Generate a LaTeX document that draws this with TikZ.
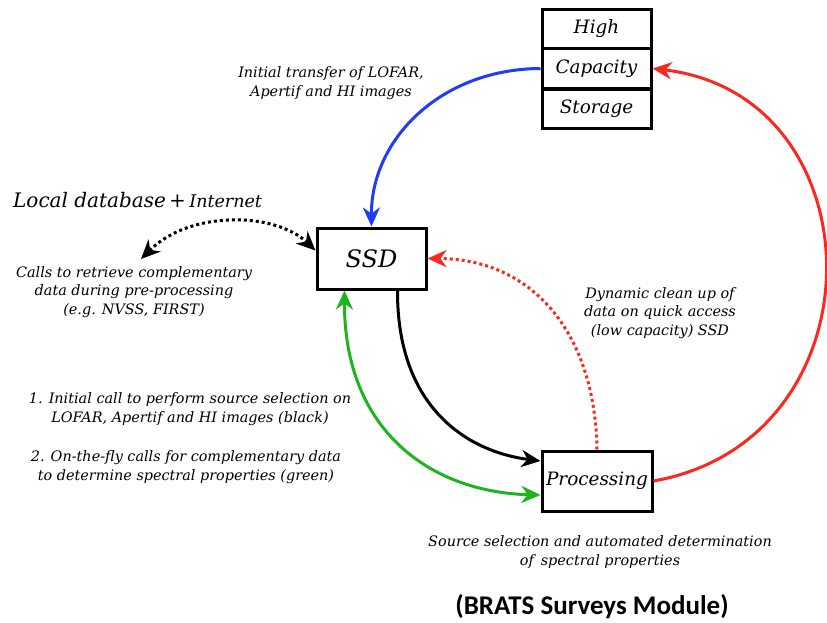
\documentclass[tikz,border=0pt]{standalone}
\usepackage{fontspec}
\setmainfont{DejaVu Serif}
\newfontfamily\boldsans{Carlito}
\usetikzlibrary{arrows.meta}
\definecolor{cblue}{RGB}{30,60,250}
\definecolor{cred}{RGB}{250,40,30}
\definecolor{cgreen}{RGB}{30,180,30}
\tikzset{
  box/.style={draw=black, line width=3pt, inner sep=0pt, font=\itshape\fontsize{18.4}{20}\selectfont},
  lbl/.style={align=center, font=\itshape\fontsize{14.4}{18.5}\selectfont},
  conn/.style={line width=3pt},
  tip/.style={-{Stealth[length=19pt,width=17pt,inset=6pt]}},
  tips/.style={{Stealth[length=19pt,width=17pt,inset=6pt]}-{Stealth[length=19pt,width=17pt,inset=6pt]}},
  dots/.style={dash pattern=on 3pt off 3pt}
}
\begin{document}
\begin{tikzpicture}[x=1pt,y=-1pt]
\useasboundingbox (0,0) rectangle (827,622);
% storage
\node[box, minimum width=109pt, minimum height=39pt] (high) at (596.5,29) {High};
\node[box, minimum width=109pt, minimum height=40pt] (cap) at (596.5,68.5) {Capacity};
\node[box, minimum width=109pt, minimum height=39pt] (stor) at (596.5,108.5) {Storage};
\node[box, minimum width=109pt, minimum height=61pt, font=\itshape\fontsize{24}{26}\selectfont] (ssd) at (371.5,258.5) {SSD};
\node[box, minimum width=110pt, minimum height=60pt] (proc) at (597,481) {Processing};
\coordinate (loc) at (141,259);
% connectors
\draw[conn, cblue, tip] (cap.west) .. controls (440,69) and (371,140) .. (ssd.north);
\draw[conn, cred, tip] (proc.east) .. controls (885,440) and (880,95) .. (cap.east);
\draw[conn, cred, dots, tip] (proc.north) .. controls (595,330) and (530,259) .. (ssd.east);
\draw[conn, black, tip] ([xshift=26pt]ssd.south) .. controls (397,410) and (470,452) .. ([yshift=20pt]proc.west);
\draw[conn, cgreen, tips] ([xshift=-27pt]ssd.south) .. controls (344,430) and (430,492) .. ([yshift=-14pt]proc.west);
\draw[conn, black, dots, tips] (loc) .. controls (190,210) and (275,212) .. ([yshift=8pt]ssd.west);
% labels
\node[anchor=west, inner sep=0pt] (locdb) at (13,200) {\itshape\fontsize{20}{22}\selectfont Local database\,+\,\fontsize{17.5}{22}\selectfont Internet};
\node[lbl] (l1) at (134,292) {Calls to retrieve complementary\\data during pre-processing\\(e.g. NVSS, FIRST)};
\node[lbl] (l2) at (331,83) {Initial transfer of LOFAR,\\Apertif and HI images};
\node[lbl] (l3) at (660,313) {Dynamic clean up of\\data on quick access\\(low capacity) SSD};
\node[lbl] (l4) at (190,409) {1. Initial call to perform source selection on\\LOFAR, Apertif and HI images (black)};
\node[lbl] (l5) at (186,467) {2. On-the-fly calls for complementary data\\to determine spectral properties (green)};
\node[lbl] (l6) at (600,552) {Source selection and automated determination\\of\, spectral properties};
\node[font=\boldsans\bfseries\fontsize{27}{30}\selectfont] (title) at (592,607) {(BRATS Surveys Module)};
\end{tikzpicture}
\end{document}
